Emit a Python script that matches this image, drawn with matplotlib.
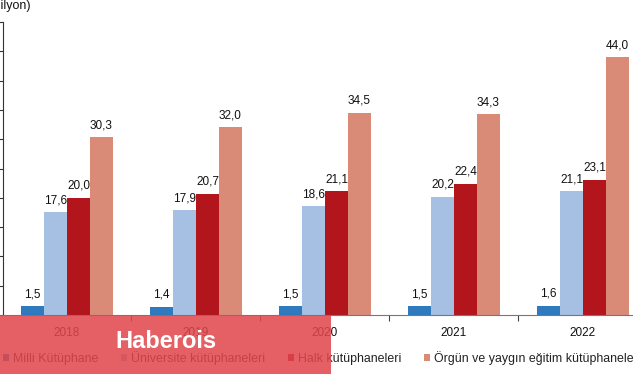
import numpy as np
import matplotlib.pyplot as plt
from matplotlib.patches import Rectangle

years = ["2018", "2019", "2020", "2021", "2022"]
milli = [1.5, 1.4, 1.5, 1.5, 1.6]
universite = [17.6, 17.9, 18.6, 20.2, 21.1]
halk = [20.0, 20.7, 21.1, 22.4, 23.1]
orgun = [30.3, 32.0, 34.5, 34.3, 44.0]

series = [
    ("Milli Kütüphane", milli, "#2f7abf"),
    ("Üniversite kütüphaneleri", universite, "#a6c0e4"),
    ("Halk kütüphaneleri", halk, "#b2151c"),
    ("Örgün ve yaygın eğitim kütüphaneleri", orgun, "#d98b78"),
]

plt.rcParams['font.family'] = ['Liberation Sans', 'DejaVu Sans']

W, H = 633, 375
fig = plt.figure(figsize=(W / 100, H / 100), dpi=100)
# axes deliberately runs a bit past the right edge (the original is cropped)
ax = fig.add_axes([2.5 / W, (H - 315) / H, 645 / W, 293 / H])

x = np.arange(len(years))
bw = 0.178
for i, (name, vals, col) in enumerate(series):
    pos = x + (i - 1.5) * bw
    ax.bar(pos, vals, bw, color=col, label=name)
    for p, v in zip(pos, vals):
        ax.text(p, v + 1.0, f"{v:.1f}".replace(".", ","), ha="center", va="bottom",
                fontsize=8.5, color="#111111")

ax.set_xlim(-0.5, len(years) - 0.5)
ax.set_ylim(0, 50)
ax.set_yticks(np.arange(0, 51, 5))
ax.set_yticklabels([])
ax.tick_params(axis="y", length=3, width=0.8, color="#333333")
ax.set_xticks(x)
ax.set_xticklabels(years, fontsize=8.5, color="#111111")
ax.set_xticks(np.arange(0.5, len(years) - 0.5, 1), minor=True)
ax.tick_params(axis="x", which="major", length=0, pad=9)
ax.tick_params(axis="x", which="minor", length=4, width=0.8, color="#444444")
for s in ["top", "right"]:
    ax.spines[s].set_visible(False)
ax.spines["left"].set_color("#333333")
ax.spines["bottom"].set_color("#777777")

# the source image is cropped, only "ilyon)" is visible
fig.text(-14 / W, 0.968, "(Milyon)", ha="left", va="bottom", fontsize=9, color="#111111")

ax.legend(loc="center left", bbox_to_anchor=(-0.016, -0.147), ncol=4, frameon=False,
          fontsize=8.9, handlelength=0.45, handleheight=0.45, handletextpad=0.3,
          columnspacing=1.9, labelcolor="#222222")

# watermark band
fig.add_artist(Rectangle((0, 1 / H), 331 / W, 59 / H, transform=fig.transFigure,
                         color="#e0464c", alpha=0.86, lw=0, zorder=10))
fig.text(166 / W, (H - 342) / H, "Haberois", ha="center", va="center", fontsize=17,
         fontweight="bold", color="white", zorder=11)

fig.savefig("out.png", dpi=100)
